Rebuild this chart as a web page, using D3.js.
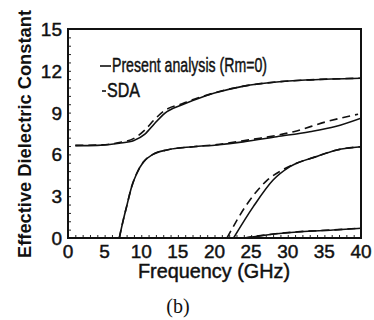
<!DOCTYPE html>
<meta charset="utf-8">
<script src="https://d3js.org/d3.v7.min.js"></script>
<style>
  body { margin: 0; background: #fff; }
  text { font-family: "Liberation Sans", Arial, sans-serif; fill: #111; }
  .heavy { stroke: #111; stroke-width: 0.45px; }
</style>
<body>
<div id="viz"></div>
<script>
  // mode 1
  const present1F = [1, 4, 7, 9, 10.5, 11.8, 13.2, 15.5, 17.7, 20, 24, 28.5, 33, 40];
  const present1V = [6.63, 6.65, 6.8, 7.0, 7.45, 8.2, 8.95, 9.55, 10.0, 10.4, 10.9, 11.2, 11.35, 11.47];
  const sda1F = [1, 4, 7, 9, 10.5, 11.8, 13.2, 15.5, 17.7, 20, 24, 28.5, 33, 40];
  const sda1V = [6.65, 6.67, 6.85, 7.15, 7.75, 8.5, 9.15, 9.62, 10.05, 10.42, 10.9, 11.2, 11.35, 11.47];
  // mode 2
  const present2F = [7.0, 7.55, 8.0, 8.7, 9.4, 10.3, 11.6, 13.5, 17.1, 20.3, 23.9, 28.5, 33, 36.5, 40];
  const present2V = [0, 1.3, 2.25, 3.7, 4.65, 5.45, 6.0, 6.32, 6.55, 6.68, 6.9, 7.27, 7.63, 8.0, 8.6];
  const sda2F = [7.0, 7.55, 8.0, 8.7, 9.4, 10.3, 11.6, 13.5, 17.1, 20.3, 23.9, 26.2, 30.8, 35.3, 38.5, 39.6];
  const sda2V = [0, 1.3, 2.25, 3.7, 4.65, 5.45, 6.0, 6.32, 6.55, 6.7, 6.98, 7.16, 7.63, 8.35, 8.76, 8.88];
  // mode 3
  const present3F = [22.6, 25.3, 28, 30.3, 33.9, 36.7, 40];
  const present3V = [0, 2.25, 4.16, 5.12, 5.84, 6.32, 6.55];
  const sda3F = [21.7, 24.4, 27.1, 29.5, 33.9, 36.7, 40];
  const sda3V = [0, 2.4, 4.1, 4.95, 5.84, 6.32, 6.55];
  // mode 4
  const present4F = [24.2, 27.1, 31.7, 36.2, 40];
  const present4V = [0, 0.22, 0.45, 0.57, 0.7];
  const sda4F = [24.0, 27.1, 31.7, 36.2, 40];
  const sda4V = [0, 0.23, 0.46, 0.58, 0.71];

  const xTicks = [0, 5, 10, 15, 20, 25, 30, 35, 40];
  const yTicks = [0, 3, 6, 9, 12, 15];
  const legendLabels = ["Present analysis (Rm=0)", "SDA"];

  const width = 374, height = 320;
  const m = {left: 68, right: 13, top: 29, bottom: 82};

  const svg = d3.select("#viz").append("svg")
    .attr("width", width)
    .attr("height", height);

  const x = d3.scaleLinear().domain([0, 40]).range([m.left, width - m.right]);
  const y = d3.scaleLinear().domain([0, 15]).range([height - m.bottom, m.top]);

  svg.append("defs").append("clipPath").attr("id", "plot")
    .append("rect")
    .attr("x", x(0)).attr("y", y(15))
    .attr("width", x(40) - x(0)).attr("height", y(0) - y(15));

  // minor ticks, inward
  const gx = svg.append("g")
    .attr("transform", `translate(0,${y(0)})`)
    .call(d3.axisTop(x).ticks(40).tickSize(3).tickFormat(""));
  const gy = svg.append("g")
    .attr("transform", `translate(${x(0)},0)`)
    .call(d3.axisRight(y).tickValues(d3.range(0, 15.01, 0.6)).tickSize(3).tickFormat(""));
  [gx, gy].forEach(g => {
    g.select(".domain").remove();
    g.selectAll("line").attr("stroke", "#222").attr("stroke-width", 1);
  });

  // frame
  svg.append("rect")
    .attr("x", x(0)).attr("y", y(15))
    .attr("width", x(40) - x(0)).attr("height", y(0) - y(15))
    .attr("fill", "none").attr("stroke", "#111").attr("stroke-width", 2);

  // tick labels
  svg.append("g").selectAll("text").data(xTicks).join("text")
    .attr("class", "heavy")
    .attr("x", d => x(d)).attr("y", y(0) + 20)
    .attr("text-anchor", "middle")
    .style("font-size", "19px")
    .text(d => d);
  svg.append("g").selectAll("text").data(yTicks).join("text")
    .attr("class", "heavy")
    .attr("x", x(0) - 6).attr("y", d => y(d) + 7)
    .attr("text-anchor", "end")
    .style("font-size", "19px")
    .text(d => d);

  // axis titles
  svg.append("text")
    .attr("class", "heavy")
    .attr("x", 214).attr("y", 278)
    .attr("text-anchor", "middle")
    .attr("textLength", 152).attr("lengthAdjust", "spacingAndGlyphs")
    .style("font-size", "20px")
    .text("Frequency (GHz)");
  svg.append("text")
    .attr("transform", "translate(31,134) rotate(-90)")
    .attr("text-anchor", "middle")
    .attr("textLength", 248).attr("lengthAdjust", "spacingAndGlyphs")
    .style("font-size", "19px").style("font-weight", "bold")
    .text("Effective Dielectric Constant");
  svg.append("text")
    .attr("x", 178).attr("y", 313)
    .attr("text-anchor", "middle")
    .style("font-family", "'Liberation Serif', 'Times New Roman', serif")
    .style("font-size", "20px")
    .text("(b)");

  // curves
  const line = d3.line()
    .x(d => x(d[0])).y(d => y(d[1]))
    .curve(d3.curveMonotoneX);
  const zip = (f, v) => f.map((d, i) => [d, v[i]]);

  const plot = svg.append("g").attr("clip-path", "url(#plot)");
  const sda = [zip(sda1F, sda1V), zip(sda2F, sda2V), zip(sda3F, sda3V), zip(sda4F, sda4V)];
  const present = [zip(present1F, present1V), zip(present2F, present2V), zip(present3F, present3V), zip(present4F, present4V)];

  plot.selectAll(".sda").data(sda).join("path")
    .attr("class", "sda")
    .attr("d", line)
    .attr("fill", "none").attr("stroke", "#111")
    .attr("stroke-width", 1.6).attr("stroke-dasharray", "8,5");
  plot.selectAll(".present").data(present).join("path")
    .attr("class", "present")
    .attr("d", line)
    .attr("fill", "none").attr("stroke", "#111")
    .attr("stroke-width", 1.6);

  // legend
  const legend = svg.append("g");
  legend.append("line")
    .attr("x1", 100).attr("x2", 111).attr("y1", 66).attr("y2", 66)
    .attr("stroke", "#111").attr("stroke-width", 1.6);
  legend.append("text")
    .attr("class", "heavy")
    .attr("x", 112).attr("y", 72)
    .attr("textLength", 155).attr("lengthAdjust", "spacingAndGlyphs")
    .style("font-size", "20px")
    .text(legendLabels[0]);
  legend.append("line")
    .attr("x1", 102).attr("x2", 106).attr("y1", 91).attr("y2", 91)
    .attr("stroke", "#111").attr("stroke-width", 1.6);
  legend.append("text")
    .attr("class", "heavy")
    .attr("x", 107).attr("y", 97)
    .attr("textLength", 33).attr("lengthAdjust", "spacingAndGlyphs")
    .style("font-size", "20px")
    .text(legendLabels[1]);
</script>
</body>
